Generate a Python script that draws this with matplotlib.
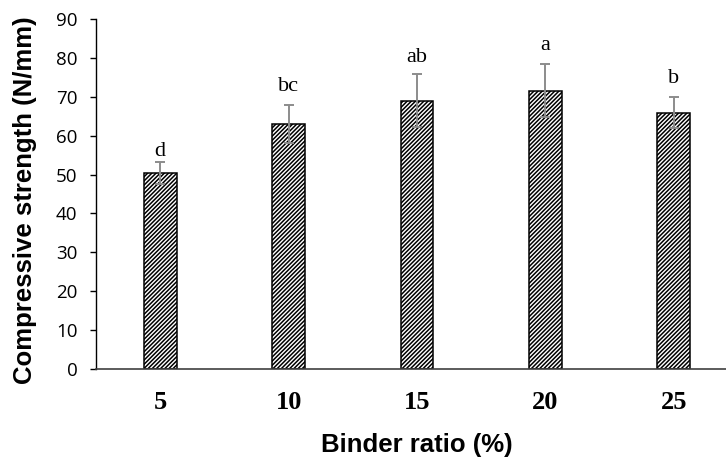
import matplotlib.pyplot as plt
import matplotlib as mpl

ratios = ['5', '10', '15', '20', '25']
strength = [50.3, 62.9, 69.0, 71.6, 65.9]
errors = [2.8, 4.9, 6.9, 6.8, 4.0]
letters = ['d', 'bc', 'ab', 'a', 'b']
letter_offsets = [4.7, 10, 8.6, 10, 10]  # points above error bar top

mpl.rcParams['hatch.linewidth'] = 1.1

fig = plt.figure(figsize=(7.26, 4.62), dpi=100)
# axes runs past the right edge of the picture, like the original
ax = fig.add_axes([96 / 726, 0.2013, 642 / 726, 0.7576])

x = list(range(len(ratios)))
ax.bar(x, strength, width=0.257, color='white', edgecolor='black',
       linewidth=1.1, hatch='////////', zorder=2)
ax.errorbar(x, strength, yerr=errors, fmt='none', ecolor='#8c8c8c',
            elinewidth=1.4, capsize=3.6, capthick=1.4, zorder=3)

for xi, v, e, lab, off in zip(x, strength, errors, letters, letter_offsets):
    ax.annotate(lab, (xi, v + e), xytext=(0, off), textcoords='offset points',
                ha='center', va='baseline', fontsize=16,
                family='Liberation Serif')

ax.set_xlim(-0.5, 4.5)
ax.set_ylim(0, 90)
ax.set_yticks(range(0, 91, 10))
ax.set_xticks(x)
ax.set_xticklabels(ratios, family='Liberation Serif', fontweight='bold', fontsize=19)
for t in ax.get_yticklabels():
    t.set_family('Open Sans')
    t.set_fontsize(13.5)

ax.tick_params(axis='x', length=0, pad=16)
ax.tick_params(axis='y', direction='out', length=4.3, width=1, pad=9)

ax.spines['top'].set_visible(False)
ax.spines['right'].set_visible(False)
ax.spines['left'].set_linewidth(1.0)
ax.spines['bottom'].set_color('#404040')
ax.spines['bottom'].set_linewidth(1.2)

ax.set_ylabel('Compressive strength (N/mm)', family='Liberation Sans',
              fontweight='bold', fontsize=18.5)
ax.yaxis.set_label_coords(-0.092, 0.483)
ax.set_xlabel('Binder ratio (%)', family='Liberation Sans',
              fontweight='bold', fontsize=18.5)
ax.xaxis.set_label_coords(0.5, -0.183)

fig.savefig('out.png', dpi=100)
